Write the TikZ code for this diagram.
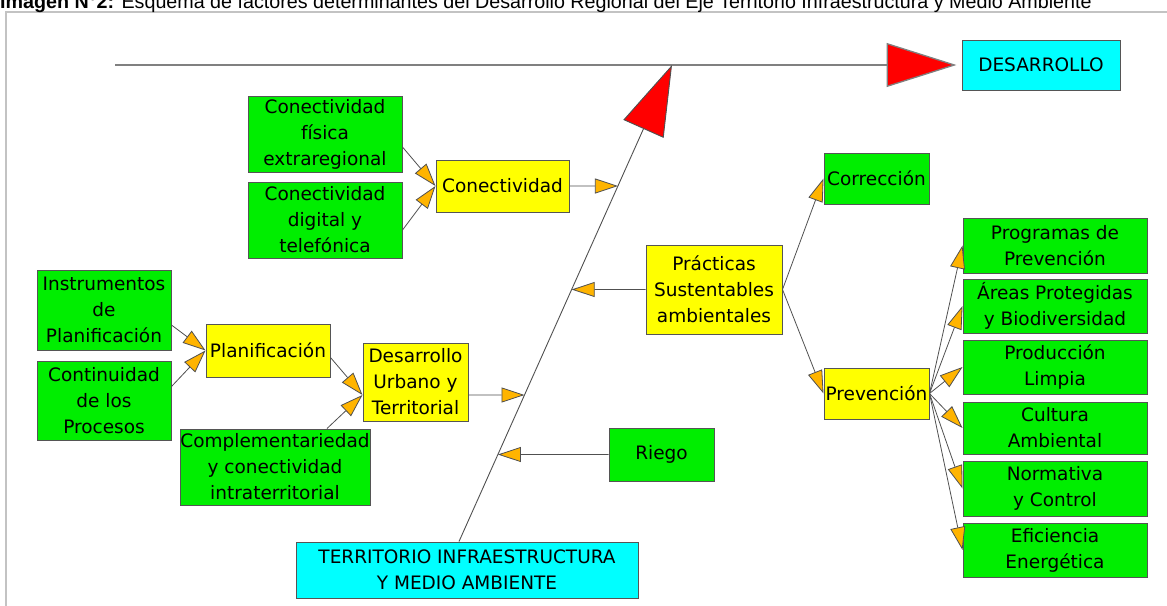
\documentclass[tikz,border=0pt]{standalone}
\usepackage{fontspec}
\usetikzlibrary{arrows.meta,calc}
\newfontfamily\boxfont{DejaVu Sans}
\newfontfamily\capfont{Liberation Sans}
\definecolor{mygreen}{RGB}{0,238,0}
\definecolor{myyellow}{RGB}{255,255,0}
\definecolor{mycyan}{RGB}{0,255,255}
\definecolor{myorange}{RGB}{255,180,0}
\definecolor{bordergray}{RGB}{85,85,85}
\definecolor{linegray}{RGB}{80,80,80}
\definecolor{framegray}{RGB}{195,195,195}
\tikzset{
  box/.style={draw=bordergray, line width=1pt, inner sep=0pt, align=center, text=black,
    font=\boxfont\fontsize{18.5}{26}\selectfont},
  gbox/.style={box, fill=mygreen},
  ybox/.style={box, fill=myyellow},
  cbox/.style={box, fill=mycyan},
  conn/.style={draw=linegray, line width=0.8pt, -{Triangle[length=23pt,width=15pt,fill=myorange]}},
  bigarrow/.style={draw=linegray, -{Triangle[length=70pt,width=44pt,fill=red]}},
}
% box from corner (x1,y1) to corner (x2,y2), y measured downwards
\newcommand{\bx}[7]{\node[#1, minimum width={(#5)-(#3)}, minimum height={(#6)-(#4)}] (#2) at ({((#3)+(#5))/2},{((#4)+(#6))/2}) {#7};}
\begin{document}
\begin{tikzpicture}[x=1pt,y=-1pt]
\useasboundingbox (0,0) rectangle (1167,605);
\clip (0,0) rectangle (1167,605);
% frame and caption
\draw[framegray, line width=2.5pt] (6,12) rectangle (1200,650);
\node[anchor=base west, inner sep=0pt, font=\capfont\fontsize{19.7}{22}\selectfont] (cap) at (0,9)
  {\textbf{Imagen N°2:} Esquema de factores determinantes del Desarrollo Regional del Eje Territorio Infraestructura y Medio Ambiente};
% boxes
\bx{gbox}{fis}{248}{96}{402}{172}{Conectividad\\física\\extraregional}
\bx{gbox}{dig}{248}{182}{402}{258}{Conectividad\\digital y\\telefónica}
\bx{ybox}{con}{436}{160}{569}{212}{Conectividad}
\bx{gbox}{ins}{37}{270}{171}{350}{Instrumentos\\de\\Planificación}
\bx{gbox}{cont}{37}{361}{171}{440}{Continuidad\\de los\\Procesos}
\bx{ybox}{pla}{206}{324}{330}{377}{Planificación}
\bx{ybox}{dut}{363}{343}{468}{421}{Desarrollo\\Urbano y\\Territorial}
\bx{gbox}{com}{180}{429}{370}{505}{Complementariedad\\y conectividad\\intraterritorial}
\bx{gbox}{rie}{609}{428}{714}{481}{Riego}
\bx{cbox}{ter}{296}{542}{638}{598}{TERRITORIO INFRAESTRUCTURA\\Y MEDIO AMBIENTE}
\bx{cbox}{des}{962}{40}{1120}{90}{DESARROLLO}
\bx{ybox}{pra}{646}{245}{782}{334}{Prácticas\\Sustentables\\ambientales}
\bx{gbox}{cor}{824}{153}{929}{204}{Corrección}
\bx{ybox}{pre}{824}{368}{929}{419}{Prevención}
\bx{gbox}{pro}{963}{218}{1147}{273}{Programas de\\Prevención}
\bx{gbox}{are}{963}{279}{1147}{333}{Áreas Protegidas\\y Biodiversidad}
\bx{gbox}{prd}{963}{340}{1147}{394}{Producción\\Limpia}
\bx{gbox}{cul}{963}{402}{1147}{454}{Cultura\\Ambiental}
\bx{gbox}{nor}{963}{461}{1147}{516}{Normativa\\y Control}
\bx{gbox}{efi}{963}{523}{1147}{577}{Eficiencia\\Energética}
% main axes
\coordinate (hS) at (115,65);
\coordinate (sB) at ([xshift=-8pt]ter.north);
\coordinate (sT) at (672,65);
\draw[bigarrow, line width=1.3pt, draw=gray] (hS) -- ([xshift=-5pt]des.west);
\draw[bigarrow, line width=0.9pt] (sB) -- (sT);
% helper coordinates
\coordinate (dutE) at ([yshift=-13pt]dut.east);
\coordinate (dutW) at ([yshift=-13pt]dut.west);
% arrows to the spine
\draw[conn] (con.east) -- (intersection of con.east--con.west and sB--sT);
\draw[conn] (dutE) -- (intersection of dutE--dutW and sB--sT);
\draw[conn] (pra.west) -- (intersection of pra.west--pra.east and sB--sT);
\draw[conn] (rie.west) -- (intersection of rie.west--rie.east and sB--sT);
% left inputs
\draw[conn] ([yshift=-13pt]fis.east) -- (con.west);
\draw[conn] ([yshift=-10pt]dig.east) -- (con.west);
\draw[conn] ([yshift=-15pt]ins.east) -- (pla.west);
\draw[conn] ([yshift=14pt]cont.east) -- (pla.west);
\draw[conn] ([yshift=-7pt]pla.east) -- (dutW);
\draw[conn] ([xshift=52pt]com.north) -- (dutW);
% right side
\draw[conn] (pra.east) -- (cor.west);
\draw[conn] (pra.east) -- (pre.west);
\foreach \n in {pro,are,prd,cul,nor,efi} \draw[conn] (pre.east) -- (\n.west);
\end{tikzpicture}
\end{document}
